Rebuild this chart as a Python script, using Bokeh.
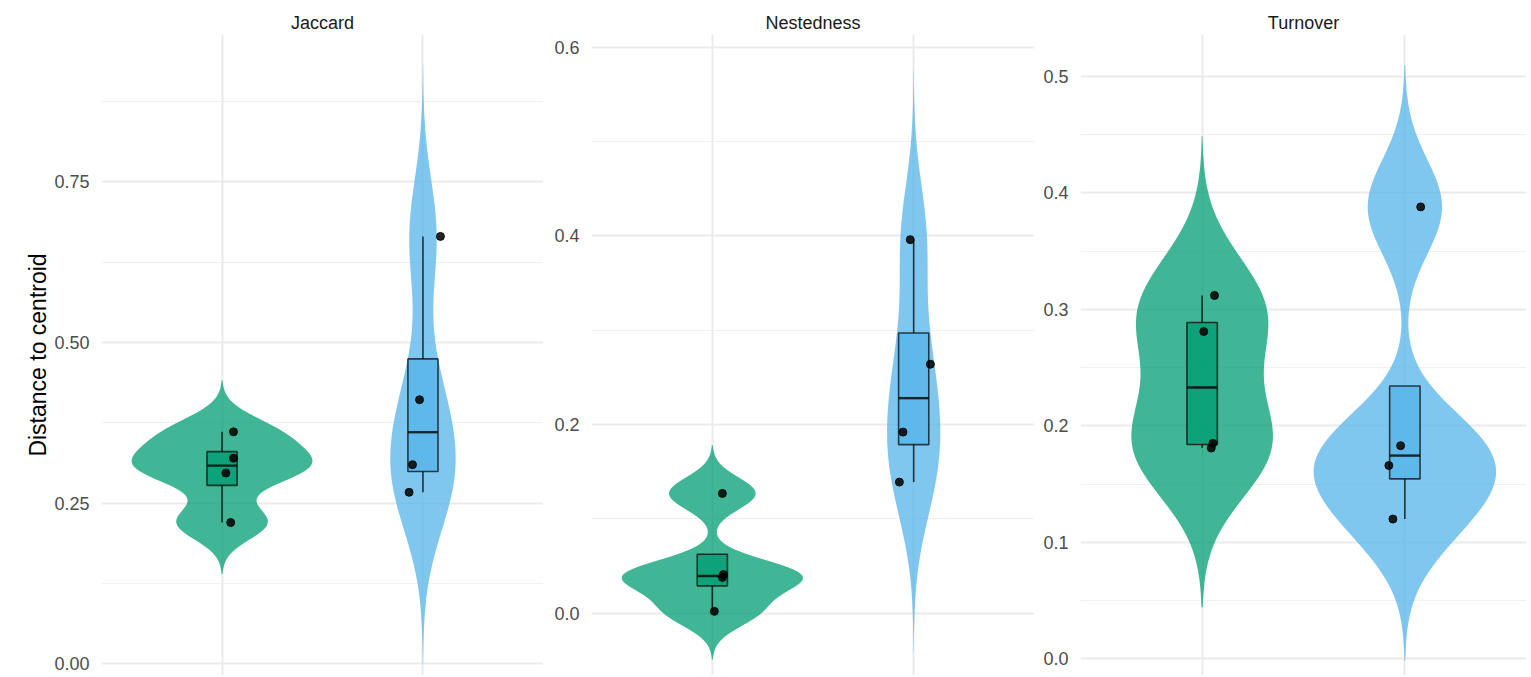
import numpy as np
from bokeh.plotting import figure
from bokeh.layouts import row
from bokeh.models import FixedTicker, NumeralTickFormatter, Range1d
from bokeh.embed import file_html
from bokeh.resources import INLINE

# ---------------- data ----------------
panels = ["Jaccard", "Nestedness", "Turnover"]
groups = ["Group 1", "Group 2"]
group_colors = ["#009E73", "#56B4E9"]
y_label = "Distance to centroid"

jaccard_g1 = [0.220, 0.297, 0.320, 0.361]
jaccard_g2 = [0.267, 0.310, 0.411, 0.665]
nested_g1 = [0.002, 0.038, 0.041, 0.127]
nested_g2 = [0.139, 0.192, 0.264, 0.396]
turnover_g1 = [0.181, 0.185, 0.281, 0.312]
turnover_g2 = [0.120, 0.166, 0.183, 0.388]

# horizontal jitter of the points (category units)
jaccard_jit_g1 = [0.043, 0.019, 0.057, 0.057]
jaccard_jit_g2 = [-0.069, -0.052, -0.017, 0.087]
nested_jit_g1 = [0.010, 0.050, 0.055, 0.050]
nested_jit_g2 = [-0.071, -0.053, 0.083, -0.017]
turnover_jit_g1 = [0.045, 0.053, 0.008, 0.061]
turnover_jit_g2 = [-0.059, -0.079, -0.021, 0.078]

# y tick labels per panel
jaccard_ticks = [0.00, 0.25, 0.50, 0.75]
nested_ticks = [0.0, 0.2, 0.4, 0.6]
turnover_ticks = [0.0, 0.1, 0.2, 0.3, 0.4, 0.5]

# ---------------- statistics (as ggplot computes them) ----------------
def bw_nrd0(x):
    x = np.asarray(x, float)
    sd = np.std(x, ddof=1)
    q75, q25 = np.percentile(x, [75, 25])
    lo = min(sd, (q75 - q25) / 1.34)
    if lo <= 0:
        lo = sd if sd > 0 else 1.0
    return 0.9 * lo * len(x) ** -0.2


def kde(x, n=512, cut=3):
    x = np.asarray(x, float)
    bw = bw_nrd0(x)
    grid = np.linspace(x.min() - cut * bw, x.max() + cut * bw, n)
    z = (grid[:, None] - x[None, :]) / bw
    d = np.exp(-0.5 * z ** 2).sum(1) / (len(x) * bw * np.sqrt(2 * np.pi))
    return grid, d


def box_stats(x):
    x = np.asarray(x, float)
    q1, med, q3 = np.percentile(x, [25, 50, 75])
    iqr = q3 - q1
    lo_f, hi_f = q1 - 1.5 * iqr, q3 + 1.5 * iqr
    inside = x[(x >= lo_f) & (x <= hi_f)]
    return q1, med, q3, inside.min(), inside.max()


FONT = "Liberation Sans"


def make_panel(title, data, jitters, ticks, fmt, yr, width, left, ylab=None):
    minor = [(a + b) / 2 for a, b in zip(ticks[:-1], ticks[1:])]
    step = ticks[1] - ticks[0]
    minor = [ticks[0] - step / 2] + minor + [ticks[-1] + step / 2]
    p = figure(width=width, height=675, x_range=Range1d(0.4, 2.6),
               y_range=Range1d(*yr), output_backend="svg", toolbar_location=None,
               min_border_left=left, min_border_right=0, min_border_top=34,
               min_border_bottom=0)
    p.outline_line_color = None
    p.background_fill_color = "white"
    p.title.text = title
    p.title.align = "center"
    p.title.text_font = FONT
    p.title.text_font_size = "18px"
    p.title.text_font_style = "normal"
    p.title.text_color = "#1A1A1A"
    p.title.standoff = 4

    p.xaxis.visible = False
    p.xgrid.ticker = FixedTicker(ticks=[1, 2])
    p.xgrid.grid_line_color = "#EBEBEB"
    p.xgrid.grid_line_width = 2

    ax = p.yaxis[0]
    ax.ticker = FixedTicker(ticks=ticks, minor_ticks=minor)
    ax.formatter = NumeralTickFormatter(format=fmt)
    ax.axis_line_color = None
    ax.major_tick_line_color = None
    ax.minor_tick_line_color = None
    ax.major_tick_out = 0
    ax.major_tick_in = 0
    ax.major_label_standoff = 8
    ax.major_label_text_font = FONT
    ax.major_label_text_font_size = "18px"
    ax.major_label_text_color = "#4D4D4D"
    if ylab:
        ax.axis_label = ylab
        ax.axis_label_text_font = FONT
        ax.axis_label_text_font_size = "23px"
        ax.axis_label_text_font_style = "normal"
        ax.axis_label_text_color = "black"
        ax.axis_label_standoff = 0
    p.ygrid.grid_line_color = "#EBEBEB"
    p.ygrid.grid_line_width = 2
    p.ygrid.minor_grid_line_color = "#F0F0F0"
    p.ygrid.minor_grid_line_width = 1

    # violins (scale = "area": widths relative to the panel's max density)
    dens = [kde(v) for v in data]
    dmax = max(d.max() for _, d in dens)
    for i, ((g, d), col) in enumerate(zip(dens, group_colors)):
        c = i + 1
        hw = 0.45 * d / dmax
        xs = np.concatenate([c + hw, (c - hw)[::-1]])
        ys = np.concatenate([g, g[::-1]])
        p.patch(xs, ys, fill_color=col, fill_alpha=0.75, line_color=None)

    # boxplots
    bw = 0.15
    for i, (v, col) in enumerate(zip(data, group_colors)):
        c = i + 1
        q1, med, q3, wlo, whi = box_stats(v)
        p.segment(x0=[c, c], y0=[q3, q1], x1=[c, c], y1=[max(whi, q3), min(wlo, q1)],
                  line_color="black", line_alpha=0.75, line_width=1.6)
        p.quad(left=[c - bw / 2], right=[c + bw / 2], bottom=[q1], top=[q3],
               fill_color=col, fill_alpha=0.8, line_color="black", line_alpha=0.7,
               line_width=1.6)
        p.segment(x0=[c - bw / 2], y0=[med], x1=[c + bw / 2], y1=[med],
                  line_color="black", line_alpha=0.8, line_width=2.4)

    # jittered points
    for i, (v, j) in enumerate(zip(data, jitters)):
        c = i + 1
        p.scatter(x=[c + o for o in j], y=v, size=8, color="black", alpha=0.85)
    return p


p1 = make_panel(panels[0], [jaccard_g1, jaccard_g2], [jaccard_jit_g1, jaccard_jit_g2],
                jaccard_ticks, "0.00", (-0.0179, 0.979), 543, 101, ylab=y_label)
p2 = make_panel(panels[1], [nested_g1, nested_g2], [nested_jit_g1, nested_jit_g2],
                nested_ticks, "0.0", (-0.066, 0.6135), 491, 48)
p3 = make_panel(panels[2], [turnover_g1, turnover_g2], [turnover_jit_g1, turnover_jit_g2],
                turnover_ticks, "0.0", (-0.0143, 0.536), 492, 46)

layout = row(p1, p2, p3)
open("out.html", "w").write(file_html(layout, INLINE))
